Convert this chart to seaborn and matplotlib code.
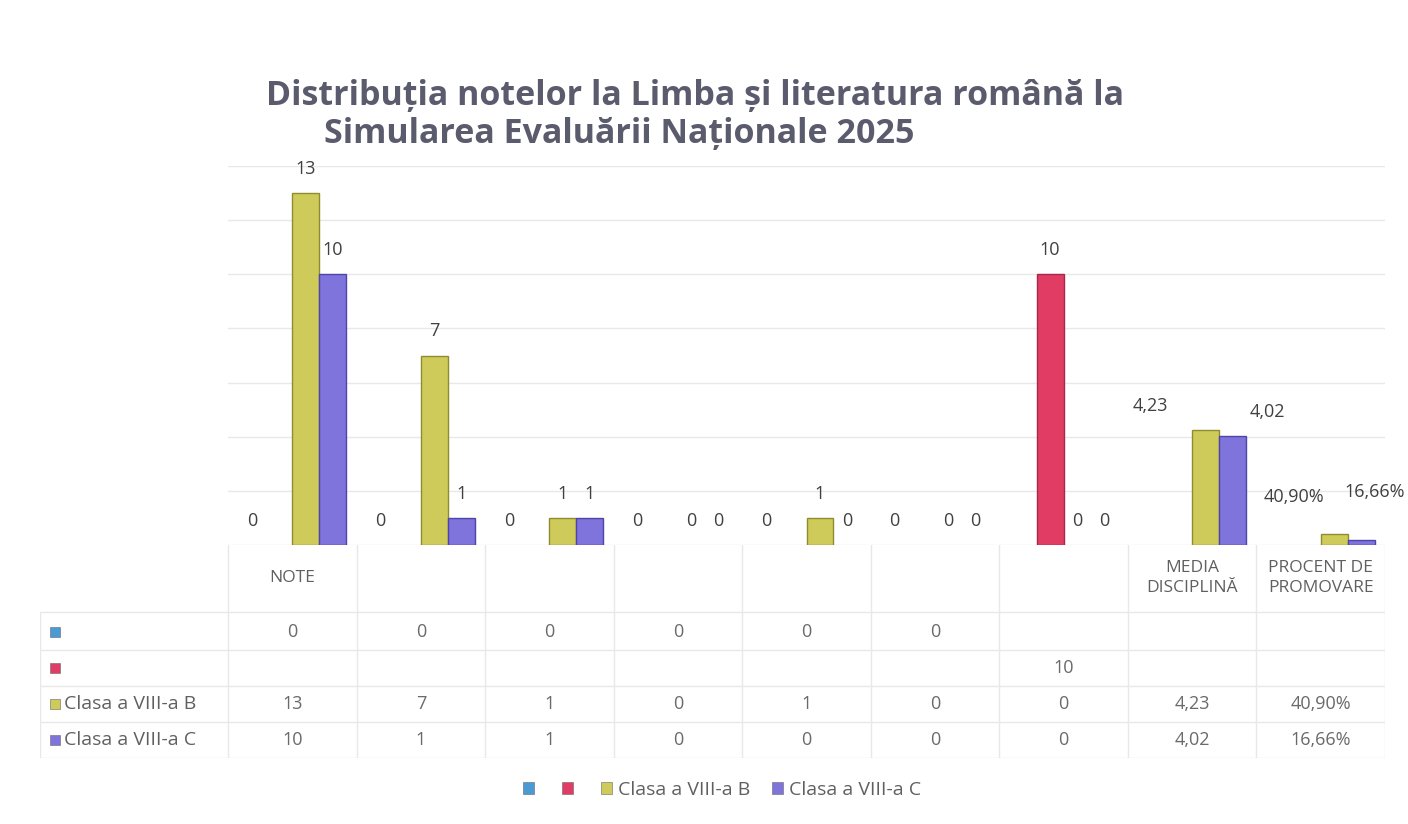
import numpy as np
import pandas as pd
import matplotlib.pyplot as plt
import seaborn as sns

# data (blank cells = NaN)
cat_labels = ["NOTE", "", "", "", "", "", "", "MEDIA\nDISCIPLINĂ", "PROCENT DE\nPROMOVARE"]
series_names = ["", "", "Clasa a VIII-a B", "Clasa a VIII-a C"]
s_blue = [0, 0, 0, 0, 0, 0, np.nan, np.nan, np.nan]
s_red = [np.nan, np.nan, np.nan, np.nan, np.nan, np.nan, 10, np.nan, np.nan]
clasa_b = [13, 7, 1, 0, 1, 0, 0, 4.23, 0.409]
clasa_c = [10, 1, 1, 0, 0, 0, 0, 4.02, 0.1666]
pct_cat = 8

colors = ["#4a9ad4", "#e03c64", "#cfcb5a", "#7f73dc"]
edges = ["#2f6f9f", "#a8284a", "#8f8c30", "#4f44a8"]
keys = ["s1", "s2", "s3", "s4"]
cats = [str(i) for i in range(len(cat_labels))]

rows = []
for k, vals in zip(keys, [s_blue, s_red, clasa_b, clasa_c]):
    for c, v in zip(cats, vals):
        rows.append({"cat": c, "series": k, "val": v})
df = pd.DataFrame(rows)


def fmt(v, ci):
    if np.isnan(v):
        return ""
    if ci == pct_cat:
        return f"{v * 100:.2f}%".replace(".", ",")
    if float(v).is_integer():
        return str(int(v))
    return f"{v:.2f}".replace(".", ",")


sns.set_theme(style="white")
plt.rcParams["font.family"] = ["Open Sans", "DejaVu Sans"]

W, H = 1408, 824
fx = lambda p: p / W
fy = lambda p: 1 - p / H

fig = plt.figure(figsize=(14.08, 8.24), dpi=100)
ax = fig.add_axes([fx(228), fy(545), fx(1385) - fx(228), fy(166) - fy(545)])

sns.barplot(data=df.dropna(), x="cat", y="val", hue="series", order=cats,
            hue_order=keys, palette=colors, saturation=1, width=0.84,
            errorbar=None, legend=False, ax=ax, linewidth=1)

ax.set_ylim(0, 14)
ax.set_xlim(-0.5, len(cats) - 0.5)
ax.set_yticks(np.arange(0, 15, 2))
ax.yaxis.grid(True, color="#e8e8e8", linewidth=1)
ax.set_axisbelow(True)
ax.set_xticks([])
ax.set_yticklabels([])
ax.tick_params(left=False)
ax.set_xlabel("")
ax.set_ylabel("")
for sp in ax.spines.values():
    sp.set_visible(False)

# custom label offsets (pixels) where excel shifted them
offsets = {("s3", 7): (-55, 0), ("s4", 7): (35, 0),
           ("s3", 8): (-40, 13), ("s4", 8): (13, 24)}

for k, ec, cont in zip(keys, edges, ax.containers):
    for bar in cont:
        h = bar.get_height()
        if np.isnan(h):
            continue
        if h == 0:
            bar.set_linewidth(0)
        else:
            bar.set_edgecolor(ec)
        xc = bar.get_x() + bar.get_width() / 2
        ci = int(round(xc))
        dx, dy = offsets.get((k, ci), (0, 0))
        ax.annotate(fmt(h, ci), (xc, h), xytext=(dx, 24 + dy),
                    textcoords="offset pixels", ha="center", va="center",
                    fontsize=13, color="#404040")

# data table below the chart
cat_w = (1385 - 228) / len(cats)
tax = fig.add_axes([fx(40), fy(758), fx(1385) - fx(40), fy(545) - fy(758)])
tax.set_xlim(-0.5 - (228 - 40) / cat_w, len(cats) - 0.5)
tax.set_ylim(758, 545)
tax.axis("off")

row_edges = [545, 612, 650, 686, 722, 758]
grid_c = "#e8e8e8"
for y in row_edges[1:]:
    tax.plot([tax.get_xlim()[0], len(cats) - 0.5], [y, y], color=grid_c, lw=1)
for i in range(len(cats) + 1):
    tax.plot([i - 0.5, i - 0.5], [545, 758], color=grid_c, lw=1)
tax.plot([tax.get_xlim()[0]] * 2, [612, 758], color=grid_c, lw=1)

for i, lab in enumerate(cat_labels):
    tax.text(i, 578, lab, ha="center", va="center", fontsize=12.5,
             color="#606060", linespacing=1.3)

row_y = [632, 668, 704, 740]
x0 = tax.get_xlim()[0]
for name, col, vals, y in zip(series_names, colors,
                               [s_blue, s_red, clasa_b, clasa_c], row_y):
    tax.scatter([x0 + 0.12], [y], marker="s", s=45, color=col,
                edgecolor="#666666", linewidth=0.4, clip_on=False)
    tax.text(x0 + 0.19, y, name, ha="left", va="center", fontsize=14, color="#606060")
    for i, v in enumerate(vals):
        tax.text(i, y, fmt(v, i), ha="center", va="center", fontsize=13, color="#6a6a6a")

# title
title_c = "#5b5b6e"
fig.text(fx(266), fy(96), "Distribuția notelor la Limba și literatura română la",
         ha="left", va="center", fontsize=24.5, fontweight="bold", color=title_c)
fig.text(fx(324), fy(134), "Simularea Evaluării Naționale 2025",
         ha="left", va="center", fontsize=24.5, fontweight="bold", color=title_c)

# legend
handles = [plt.Rectangle((0, 0), 1, 1, facecolor=c, edgecolor="#666666", lw=0.4)
           for c in colors]
fig.legend(handles, series_names, loc="center", bbox_to_anchor=(fx(722), fy(790)),
           ncol=4, frameon=False, fontsize=14, handlelength=0.6, handleheight=0.6,
           handletextpad=0.3, columnspacing=1.1, labelcolor="#606060")

fig.savefig("out.png", dpi=100, facecolor="white")
